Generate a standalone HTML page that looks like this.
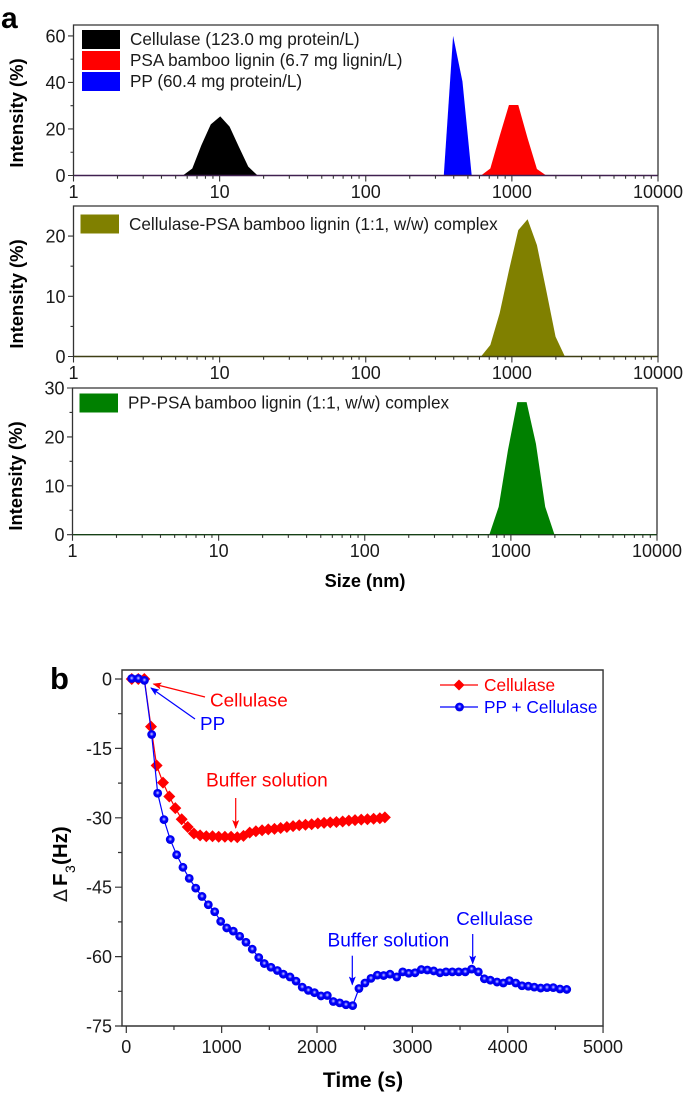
<!DOCTYPE html>
<html lang="en">
<head>
<meta charset="utf-8">
<title>Size distribution and QCM frequency charts</title>
<style>
html,body{margin:0;padding:0;background:#fff;width:685px;height:1096px;overflow:hidden}
svg{display:block;font-family:"Liberation Sans",Arial,sans-serif;filter:blur(0.3px)}
text{fill:#1a1a1a}
</style>
</head>
<body>
<svg id="fig" xmlns="http://www.w3.org/2000/svg" width="685" height="1096" viewBox="0 0 685 1096">
<defs>
<radialGradient id="ball" cx="0.5" cy="0.45" r="0.55">
<stop offset="0" stop-color="#d8d8ff"/>
<stop offset="0.18" stop-color="#7878ff"/>
<stop offset="0.45" stop-color="#0000ff"/>
<stop offset="1" stop-color="#0000e0"/>
</radialGradient>
<marker id="ah-red" markerWidth="9" markerHeight="7" refX="8" refY="3.5" orient="auto" markerUnits="userSpaceOnUse"><path d="M0 0L9 3.5L0 7L2 3.5Z" fill="#f00"/></marker>
<marker id="ah-blue" markerWidth="9" markerHeight="7" refX="8" refY="3.5" orient="auto" markerUnits="userSpaceOnUse"><path d="M0 0L9 3.5L0 7L2 3.5Z" fill="#00f"/></marker>
</defs>

<text x="1" y="28" font-size="30" font-weight="bold" style="fill:#000">a</text>
<text x="50" y="689" font-size="31" font-weight="bold" style="fill:#000">b</text>

<g id="plot-a1"></g>
<g id="plot-a2"></g>
<g id="plot-a3"></g>
<g id="plot-b"></g>

<g font-size="17.15">
<rect x="82" y="30" width="38" height="19" fill="#000"/>
<rect x="82" y="51" width="38" height="19" fill="#f00"/>
<rect x="82" y="72" width="38" height="19" fill="#00f"/>
<text x="130" y="45">Cellulase (123.0 mg protein/L)</text>
<text x="130" y="66">PSA bamboo lignin (6.7 mg lignin/L)</text>
<text x="130" y="87">PP (60.4 mg protein/L)</text>
</g>
<g font-size="17.15">
<rect x="80.5" y="214.5" width="38.5" height="19" fill="#808000"/>
<text x="129" y="230">Cellulase-PSA bamboo lignin (1:1, w/w) complex</text>
</g>
<g font-size="17.15">
<rect x="79.5" y="393.5" width="38.5" height="19" fill="#008000"/>
<text x="128" y="408.5">PP-PSA bamboo lignin (1:1, w/w) complex</text>
</g>

<text transform="translate(23,113) rotate(-90)" text-anchor="middle" font-size="18.4" font-weight="bold" style="fill:#000">Intensity (%)</text>
<text transform="translate(23,294) rotate(-90)" text-anchor="middle" font-size="18.4" font-weight="bold" style="fill:#000">Intensity (%)</text>
<text transform="translate(22,476) rotate(-90)" text-anchor="middle" font-size="18.4" font-weight="bold" style="fill:#000">Intensity (%)</text>
<text x="365" y="587" text-anchor="middle" font-size="18.2" font-weight="bold" style="fill:#000">Size (nm)</text>
<text x="363" y="1087" text-anchor="middle" font-size="21" font-weight="bold" style="fill:#000">Time (s)</text>
<g transform="translate(67,902) rotate(-90)">
<text x="0" y="0" font-size="19" font-family="'DejaVu Sans',sans-serif" style="fill:#1a1a1a">Δ</text>
<text x="16" y="0" font-size="20.5" font-weight="bold" style="fill:#000">F</text>
<text x="29" y="8" font-size="14" font-weight="normal" style="fill:#000">3</text>
<text x="37" y="0" font-size="20.5" font-weight="bold" style="fill:#000">(Hz)</text>
</g>

<g>
<line x1="440" y1="685" x2="478" y2="685" stroke="#f00" stroke-width="1.3"/>
<path d="M459 679.5L464.5 685L459 690.5L453.5 685Z" fill="#f00"/>
<text x="484" y="691" font-size="17.3" style="fill:#f00">Cellulase</text>
<line x1="440" y1="707" x2="478" y2="707" stroke="#00f" stroke-width="1.3"/>
<circle cx="459.5" cy="707" r="4.4" fill="url(#ball)"/>
<text x="484" y="713" font-size="17.3" style="fill:#00f">PP + Cellulase</text>
</g>

<g>
<line x1="205" y1="697" x2="153.5" y2="684" stroke="#f00" stroke-width="1.2" marker-end="url(#ah-red)"/>
<text x="210" y="706.5" font-size="18.9" style="fill:#f00">Cellulase</text>
<line x1="195" y1="719" x2="151" y2="688" stroke="#00f" stroke-width="1.2" marker-end="url(#ah-blue)"/>
<text x="200" y="730" font-size="18.9" style="fill:#00f">PP</text>
<text x="206" y="786.5" font-size="19.1" style="fill:#f00">Buffer solution</text>
<line x1="235.7" y1="798" x2="235.7" y2="828" stroke="#f00" stroke-width="1.2" marker-end="url(#ah-red)"/>
<text x="327.5" y="946.5" font-size="19.1" style="fill:#00f">Buffer solution</text>
<line x1="352.3" y1="955.7" x2="352.3" y2="984.5" stroke="#00f" stroke-width="1.2" marker-end="url(#ah-blue)"/>
<text x="456.3" y="925" font-size="18.7" style="fill:#00f">Cellulase</text>
<line x1="472.7" y1="934" x2="472.7" y2="963.5" stroke="#00f" stroke-width="1.2" marker-end="url(#ah-blue)"/>
</g>
</svg>

<script>
// ---- chart data ----
const sizeTickLabels = [1, 10, 100, 1000, 10000];
const intensityTicksA1 = [0, 20, 40, 60];
const intensityTicksA2 = [0, 10, 20];
const intensityTicksA3 = [0, 10, 20, 30];

const cellulaseSizes = [5.6, 6.5, 7.5, 8.7, 10.1, 11.7, 13.5, 15.7, 18.2];
const cellulaseValues = [0, 3, 13, 22, 25.4, 21, 12.5, 3.8, 0];
const ppSizes = [342, 396, 459, 531];
const ppValues = [0, 60, 40.4, 0];
const psaSizes = [615, 712, 825, 955, 1106, 1281, 1484, 1718];
const psaValues = [0, 3, 17, 30.3, 30.3, 16, 2.8, 0];
const cellComplexSizes = [615, 712, 825, 955, 1106, 1281, 1484, 1718, 1990, 2305];
const cellComplexValues = [0, 1.9, 7.2, 14.3, 21, 22.8, 18.5, 11, 3.3, 0];
const ppComplexSizes = [712, 825, 955, 1106, 1281, 1484, 1718, 1990];
const ppComplexValues = [0, 5.7, 17.3, 27.1, 27.1, 18.6, 5.7, 0];

const timeTicks = [0, 1000, 2000, 3000, 4000, 5000];
const freqTicks = [0, -15, -30, -45, -60, -75];

const cellulaseTime = [57,126,189,259,318,385,451,514,581,644,709,774,839,904,969,1034,1099,1164,1229,1294,1359,1424,1489,1554,1619,1684,1749,1814,1879,1944,2009,2074,2139,2204,2269,2334,2399,2464,2529,2594,2659,2712];
const cellulaseFreq = [0,0,0,-10.3,-18.7,-22.4,-25.4,-27.9,-30.3,-32,-33.4,-33.8,-34,-34,-34.1,-34.1,-34.1,-34.2,-33.9,-33.2,-32.9,-32.7,-32.5,-32.4,-32.2,-32,-31.8,-31.6,-31.5,-31.4,-31.2,-31.1,-31,-30.9,-30.8,-30.6,-30.5,-30.4,-30.3,-30.2,-30.1,-29.9];

const ppCellTime = [57,126,190,266,329,395,461,528,594,660,728,794,860,927,990,1053,1122,1189,1255,1321,1389,1447,1517,1584,1647,1717,1780,1845,1909,1974,2042,2108,2171,2238,2304,2374,2440,2503,2566,2633,2699,2766,2836,2899,2962,3028,3094,3157,3224,3290,3353,3419,3486,3555,3622,3692,3755,3818,3888,3954,4017,4084,4150,4216,4279,4346,4412,4478,4548,4619];
const ppCellFreq = [0.1,0.1,-0.3,-12,-24.7,-30.4,-34.7,-38,-40.7,-43.1,-45.2,-47,-48.8,-50.3,-52.4,-53.8,-54.5,-55.6,-56.9,-58.4,-60.2,-61.5,-62.3,-63,-63.8,-64.4,-65.3,-66.6,-67.3,-67.8,-68.5,-68.4,-69.7,-70,-70.4,-70.6,-66.9,-65.7,-64.7,-64,-64.1,-63.8,-64.4,-63.3,-63.6,-63.5,-62.8,-62.9,-63.1,-63.5,-63.3,-63.3,-63.3,-63.3,-62.7,-63.3,-64.8,-65.1,-65.5,-65.7,-65.2,-65.7,-66.3,-66.4,-66.6,-66.8,-66.7,-66.7,-67,-67.1];

// ---- helpers ----
const NS = 'http://www.w3.org/2000/svg';
function mk(tag, parent) {
  const el = document.createElementNS(NS, tag);
  parent.appendChild(el);
  return el;
}
const AXIS = '#333';

function logScale(left, right) {
  return v => left + (right - left) * Math.log10(v) / 4;
}
function linScale(d0, d1, r0, r1) {
  return v => r0 + (v - d0) * (r1 - r0) / (d1 - d0);
}

function drawArea(g, name, sizes, values, color, x, y) {
  let d = '';
  sizes.forEach((s, i) => { d += (i ? 'L' : 'M') + x(s).toFixed(2) + ' ' + y(values[i]).toFixed(2); });
  const p = mk('path', g);
  
  
  p.setAttribute('d', d + 'Z');
  p.setAttribute('fill', color);
}

function drawLogPanel(id, box, yMax, yTicks, yMinorStep, series, baseColor, labelBaseline) {
  const g = document.getElementById(id);
  const x = logScale(box.left, box.right);
  const y = linScale(0, yMax, box.bottom, box.top);

  series.forEach(s => drawArea(g, s.name, s.sizes, s.values, s.color, x, y));

  const base = mk('line', g);
  
  
  base.setAttribute('x1', box.left);
  base.setAttribute('x2', box.right);
  base.setAttribute('y1', box.bottom);
  base.setAttribute('y2', box.bottom);
  base.setAttribute('stroke', baseColor);
  base.setAttribute('stroke-width', '1.4');

  const frame = mk('path', g);
  
  
  frame.setAttribute('d', `M${box.left} ${box.bottom}V${box.top}H${box.right}V${box.bottom}`);
  frame.setAttribute('fill', 'none');
  frame.setAttribute('stroke', AXIS);
  frame.setAttribute('stroke-width', '1.3');

  let ticks = '';
  sizeTickLabels.forEach((v, i) => {
    ticks += `M${x(v).toFixed(2)} ${box.bottom}v6`;
    if (i < 4) for (let m = 2; m < 10; m++) ticks += `M${x(v * m).toFixed(2)} ${box.bottom}v3.2`;
  });
  const xt = mk('path', g);
  
  
  xt.setAttribute('d', ticks);
  xt.setAttribute('stroke', AXIS);
  xt.setAttribute('stroke-width', '1.1');

  let yt = '';
  yTicks.forEach(v => { yt += `M${box.left} ${y(v).toFixed(2)}h-5.5`; });
  for (let v = yMinorStep; v < yMax; v += yMinorStep * 2) yt += `M${box.left} ${y(v).toFixed(2)}h-3`;
  const yp = mk('path', g);
  
  
  yp.setAttribute('d', yt);
  yp.setAttribute('stroke', AXIS);
  yp.setAttribute('stroke-width', '1.1');

  sizeTickLabels.forEach(v => {
    const t = mk('text', g);
    
    
    t.setAttribute('x', x(v));
    t.setAttribute('y', labelBaseline);
    t.setAttribute('text-anchor', 'middle');
    t.setAttribute('font-size', '18');
    t.textContent = v;
  });
  yTicks.forEach(v => {
    const t = mk('text', g);
    
    
    t.setAttribute('x', box.left - 8);
    t.setAttribute('y', y(v) + 6.5);
    t.setAttribute('text-anchor', 'end');
    t.setAttribute('font-size', '18');
    t.textContent = v;
  });
}

// ---- panel a ----
drawLogPanel('plot-a1', {left: 73.5, right: 658, top: 25, bottom: 175.5}, 64.7, intensityTicksA1, 10, [
  {name: 'area-cellulase', sizes: cellulaseSizes, values: cellulaseValues, color: '#000'},
  {name: 'area-psa-lignin', sizes: psaSizes, values: psaValues, color: '#f00'},
  {name: 'area-pp', sizes: ppSizes, values: ppValues, color: '#00f'}
], '#402050', 198);
drawLogPanel('plot-a2', {left: 73.5, right: 658, top: 206, bottom: 356.5}, 25, intensityTicksA2, 5, [
  {name: 'area-cellulase-complex', sizes: cellComplexSizes, values: cellComplexValues, color: '#808000'}
], '#3e3e14', 379);
drawLogPanel('plot-a3', {left: 72.5, right: 657, top: 388, bottom: 534.7}, 30, intensityTicksA3, 5, [
  {name: 'area-pp-complex', sizes: ppComplexSizes, values: ppComplexValues, color: '#008000'}
], '#164016', 557);

// ---- panel b ----
(function () {
  const g = document.getElementById('plot-b');
  const x = linScale(0, 1000, 126.3, 221.65);
  const y = linScale(0, -15, 679, 748.4);
  const box = {left: 122, right: x(5000), top: 670, bottom: y(-75)};

  const frame = mk('path', g);
  
  
  frame.setAttribute('d', `M${box.left} ${box.bottom}V${box.top}H${box.right}V${box.bottom}Z`);
  frame.setAttribute('fill', 'none');
  frame.setAttribute('stroke', AXIS);
  frame.setAttribute('stroke-width', '1.4');

  let xt = '';
  timeTicks.forEach((v, i) => {
    xt += `M${x(v).toFixed(2)} ${box.bottom}v7`;
    if (i < timeTicks.length - 1) xt += `M${x(v + 500).toFixed(2)} ${box.bottom}v4`;
  });
  const xp = mk('path', g);
  
  
  xp.setAttribute('d', xt);
  xp.setAttribute('stroke', AXIS);
  xp.setAttribute('stroke-width', '1.2');

  let yt = '';
  freqTicks.forEach((v, i) => {
    yt += `M${box.left} ${y(v).toFixed(2)}h-7`;
    if (i < freqTicks.length - 1) yt += `M${box.left} ${y(v - 7.5).toFixed(2)}h-4`;
  });
  const yp = mk('path', g);
  
  
  yp.setAttribute('d', yt);
  yp.setAttribute('stroke', AXIS);
  yp.setAttribute('stroke-width', '1.2');

  timeTicks.forEach(v => {
    const t = mk('text', g);
    
    
    t.setAttribute('x', x(v));
    t.setAttribute('y', 1053);
    t.setAttribute('text-anchor', 'middle');
    t.setAttribute('font-size', '18');
    t.textContent = v;
  });
  freqTicks.forEach(v => {
    const t = mk('text', g);
    
    
    t.setAttribute('x', box.left - 10);
    t.setAttribute('y', y(v) + 6.5);
    t.setAttribute('text-anchor', 'end');
    t.setAttribute('font-size', '18');
    t.textContent = v;
  });

  const redLine = mk('polyline', g);
  
  
  redLine.setAttribute('points', cellulaseTime.map((t, i) => x(t).toFixed(2) + ',' + y(cellulaseFreq[i]).toFixed(2)).join(' '));
  redLine.setAttribute('fill', 'none');
  redLine.setAttribute('stroke', '#f00');
  redLine.setAttribute('stroke-width', '1.2');

  cellulaseTime.forEach((t, i) => {
    const cx = x(t), cy = y(cellulaseFreq[i]), r = 6;
    const m = mk('path', g);
    
    
    m.setAttribute('d', `M${cx} ${cy - r}L${cx + r} ${cy}L${cx} ${cy + r}L${cx - r} ${cy}Z`);
    m.setAttribute('fill', '#f00');
  });

  const blueLine = mk('polyline', g);
  
  
  blueLine.setAttribute('points', ppCellTime.map((t, i) => x(t).toFixed(2) + ',' + y(ppCellFreq[i]).toFixed(2)).join(' '));
  blueLine.setAttribute('fill', 'none');
  blueLine.setAttribute('stroke', '#00f');
  blueLine.setAttribute('stroke-width', '1.2');

  ppCellTime.forEach((t, i) => {
    const c = mk('circle', g);
    
    
    c.setAttribute('cx', x(t));
    c.setAttribute('cy', y(ppCellFreq[i]));
    c.setAttribute('r', '4.4');
    c.setAttribute('fill', 'url(#ball)');
  });
})();
</script>
</body>
</html>
